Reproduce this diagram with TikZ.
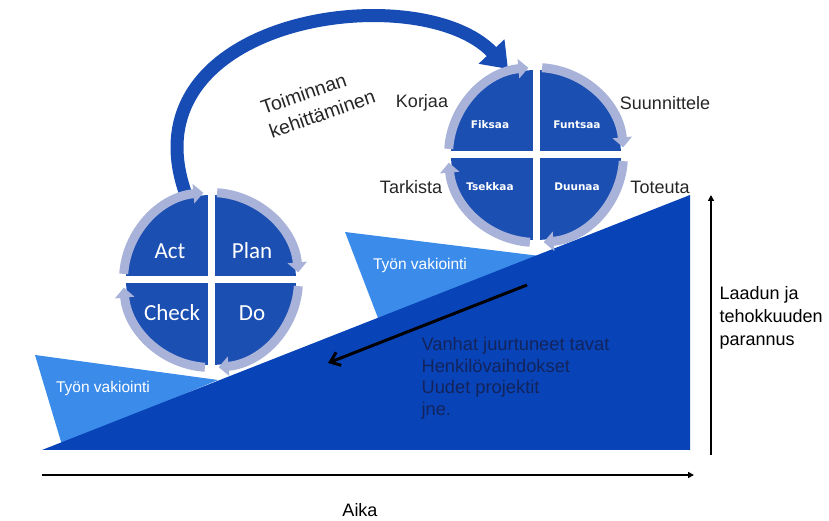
\documentclass[tikz,border=0pt]{standalone}
\usepackage{fontspec}
\setmainfont{Liberation Sans}
\newfontfamily\calibri{Carlito}
\newfontfamily\verdana{DejaVu Sans}
\usetikzlibrary{positioning, arrows.meta, calc}
\definecolor{deepBlue}{HTML}{0843B8}
\definecolor{skyBlue}{HTML}{3B8CEA}
\definecolor{quadBlue}{HTML}{1C4FB2}
\definecolor{ringGrey}{HTML}{A9B3DA}
\definecolor{navyText}{HTML}{13245C}
\definecolor{loopBlue}{HTML}{164CB4}
\tikzset{
  font=\fontsize{18}{22}\selectfont,
  slope/.style={fill=deepBlue},
  wedge/.style={fill=skyBlue},
  quad/.style={fill=quadBlue},
  gapline/.style={draw=white, line width=7pt},
  ringarc/.style={draw=ringGrey, line width=9pt, -{Triangle[width=19pt, length=10pt]}},
  bigword/.style={text=white, font=\calibri\fontsize{23}{26}\selectfont},
  smallword/.style={text=white, font=\verdana\bfseries\fontsize{10.5}{12}\selectfont},
  phase/.style={text=black!85},
  wedgetext/.style={text=white, font=\fontsize{15.5}{18}\selectfont},
  loopline/.style={draw=loopBlue, line width=13pt, -{Triangle[width=34pt, length=24pt]}},
  backarrow/.style={draw=black, line width=3pt, -{Straight Barb[width=14pt, length=9pt]}},
  axis/.style={draw=black, line width=1.5pt, -{Triangle[width=6pt, length=6pt]}}
}

\begin{document}
\begin{tikzpicture}[x=1pt, y=1pt]
    \useasboundingbox (0,0) rectangle (829,521);

    % improvement loop between the wheels
    \coordinate (loopstart) at (185,329);
    \coordinate (looptip) at (508,452);
    \draw[loopline] (loopstart) .. controls (125,505) and (420,545) .. (looptip);
    \node[phase, rotate=19, align=left, font=\fontsize{19.5}{25}\selectfont] (improve) at (318,419) {Toiminnan\\kehittäminen};

    % standardisation wedges and the slope
    \fill[wedge] (35,166) -- (218,141) -- (62,76) -- cycle;
    \fill[wedge] (345,289) -- (548,264) -- (378,203) -- cycle;
    \fill[slope] (42,71) -- (690,71) -- (690,326) -- cycle;
    \node[wedgetext] (vakio1) at (103,133) {Työn vakiointi};
    \node[wedgetext] (vakio2) at (420,256) {Työn vakiointi};

    % left wheel
    \coordinate (pdca) at (211,241);
    \fill[quad] (pdca) circle[radius=85];
    \draw[gapline] (pdca) ++(-96,0) -- ++(192,0);
    \draw[gapline] (pdca) ++(0,-96) -- ++(0,192);
    \foreach \q in {0,90,180,270}
      \draw[ringarc] (pdca) ++(\q+86:87.5) arc[start angle=\q+86, end angle=\q+5, radius=87.5];
    \node[bigword] (act) at (170,270) {Act};
    \node[bigword] (plan) at (252,270) {Plan};
    \node[bigword] (check) at (172,208) {Check};
    \node[bigword] (do) at (252,208) {Do};

    % right wheel
    \coordinate (fftd) at (536,366);
    \fill[quad] (fftd) circle[radius=85];
    \draw[gapline] (fftd) ++(-96,0) -- ++(192,0);
    \draw[gapline] (fftd) ++(0,-96) -- ++(0,192);
    \foreach \q in {0,90,180,270}
      \draw[ringarc] (fftd) ++(\q+86:87.5) arc[start angle=\q+86, end angle=\q+5, radius=87.5];
    \node[smallword] (fiksaa) at (490,396) {Fiksaa};
    \node[smallword] (funtsaa) at (577,396) {Funtsaa};
    \node[smallword] (tsekkaa) at (490,334) {Tsekkaa};
    \node[smallword] (duunaa) at (577,334) {Duunaa};
    \node[phase] (korjaa) at (422,418) {Korjaa};
    \node[phase] (suunn) at (665,418) {Suunnittele};
    \node[phase] (tarkista) at (411,334) {Tarkista};
    \node[phase] (toteuta) at (660,334) {Toteuta};

    % slipping back
    \coordinate (slipfrom) at (527,236);
    \coordinate (slipto) at (328,158);
    \draw[backarrow] (slipfrom) -- (slipto);
    \node[text=navyText, align=left, anchor=north west, font=\fontsize{18.3}{21.5}\selectfont] (reasons) at (418,187)
      {Vanhat juurtuneet tavat\\Henkilövaihdokset\\Uudet projektit\\jne.};

    % axes
    \coordinate (t0) at (42,46);
    \coordinate (t1) at (694,46);
    \coordinate (q0) at (711,66);
    \coordinate (q1) at (711,326);
    \draw[axis] (t0) -- (t1);
    \draw[axis] (q0) -- (q1);
    \node (aika) at (360,11) {Aika};
    \node[align=left, anchor=west, font=\fontsize{18}{23}\selectfont] (parannus) at (716,203)
      {Laadun ja\\tehokkuuden\\parannus};
  \end{tikzpicture}
\end{document}
